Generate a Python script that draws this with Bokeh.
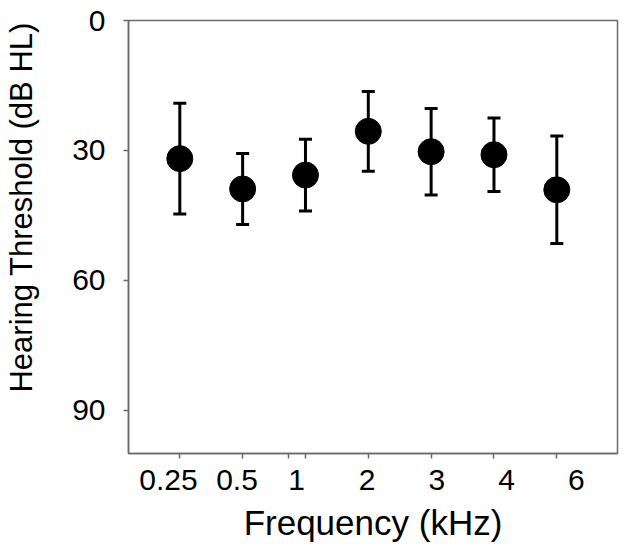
import math
from bokeh.plotting import figure
from bokeh.layouts import row
from bokeh.models import (ColumnDataSource, Range1d, FixedTicker, Whisker, TeeHead)
from bokeh.core.properties import value
from bokeh.embed import file_html
from bokeh.resources import INLINE

# ---- data ----
freq_labels = ["0.25", "0.5", "1", "2", "3", "4", "6"]
threshold_mean = [31.9, 38.9, 35.7, 25.6, 30.3, 31.0, 39.1]
threshold_sd = [12.8, 8.2, 8.3, 9.2, 10.0, 8.5, 12.4]
y_ticks = [0, 30, 60, 90]
y_title = "Hearing Threshold (dB HL)"
x_title = "Frequency (kHz)"

# ---- layout constants ----
FONT = "Liberation Sans"
AX_COL = "#6a6a6a"
FRAME_W, FRAME_H = 489, 433
TOP = 20
TITLE_W = 45
PANEL_H = 540
TITLE_X, TITLE_Y = 3, 2
# label placement relative to tick (in category units) as seen in the reference
LABEL_SHIFT = [-0.18, -0.09, -0.14, -0.02, 0.09, 0.20, 0.31]
EXTRA_TICK = 2.735

xs = [i + 1 for i in range(len(freq_labels))]
upper = [m + s for m, s in zip(threshold_mean, threshold_sd)]
lower = [m - s for m, s in zip(threshold_mean, threshold_sd)]
src = ColumnDataSource(dict(x=xs, y=threshold_mean, upper=upper, lower=lower))

p = figure(frame_width=FRAME_W, frame_height=FRAME_H,
           x_range=Range1d(0.1835, 7.966), y_range=Range1d(100, 0),
           output_backend="svg", toolbar_location=None,
           min_border_left=128 - TITLE_W, min_border_top=TOP, min_border_right=6,
           min_border_bottom=4)
p.xgrid.visible = False
p.ygrid.visible = False
p.outline_line_color = AX_COL
p.outline_line_width = 1.5
p.background_fill_color = "white"
p.border_fill_color = "white"

# error bars
wh = Whisker(source=src, base="x", upper="upper", lower="lower",
             line_color="black", line_width=3,
             upper_head=TeeHead(size=13, line_width=3, line_color="black"),
             lower_head=TeeHead(size=13, line_width=3, line_color="black"))
p.add_layout(wh)

p.scatter("x", "y", source=src, size=26, fill_color="black", line_color="black")

# x axis: labels (major) slightly spread relative to the tick marks (minor)
label_pos = [x + s for x, s in zip(xs, LABEL_SHIFT)]
xax = p.xaxis[0]
xax.ticker = FixedTicker(ticks=label_pos, minor_ticks=xs + [EXTRA_TICK])
xax.major_label_overrides = {lp: lab for lp, lab in zip(label_pos, freq_labels)}
xax.major_tick_line_color = None
xax.minor_tick_line_color = AX_COL
xax.minor_tick_line_width = 1.5
xax.minor_tick_out = 5
xax.minor_tick_in = 0
xax.axis_line_color = AX_COL
xax.axis_line_width = 1.5
xax.major_label_text_font = FONT
xax.major_label_text_font_size = "30px"
xax.major_label_text_color = "black"
xax.major_label_standoff = 10
xax.axis_label = x_title
xax.axis_label_text_font = FONT
xax.axis_label_text_font_size = "35px"
xax.axis_label_text_font_style = "normal"
xax.axis_label_text_color = "black"
xax.axis_label_standoff = 10

yax = p.yaxis[0]
yax.ticker = FixedTicker(ticks=y_ticks, minor_ticks=[])
yax.major_tick_line_color = AX_COL
yax.major_tick_line_width = 1.5
yax.major_tick_out = 5
yax.major_tick_in = 0
yax.minor_tick_line_color = None
yax.axis_line_color = AX_COL
yax.axis_line_width = 1.5
yax.major_label_text_font = FONT
yax.major_label_text_font_size = "30px"
yax.major_label_text_color = "black"
yax.major_label_standoff = 18

# narrow side panel carrying the y-axis title (aligned to the frame top, as in the reference)
t = figure(width=TITLE_W, height=PANEL_H, x_range=Range1d(0, TITLE_W),
           y_range=Range1d(PANEL_H, 0), x_axis_type=None, y_axis_type=None,
           output_backend="svg", toolbar_location=None,
           min_border=0, outline_line_color=None)
t.xgrid.visible = False
t.ygrid.visible = False
t.text(x=[TITLE_X], y=[TITLE_Y], text=[y_title], angle=math.pi / 2,
       text_align="right", text_baseline="top",
       text_font=value(FONT), text_font_size="31px", text_color="black")

layout = row(t, p, spacing=0)
open("out.html", "w").write(file_html(layout, INLINE))
